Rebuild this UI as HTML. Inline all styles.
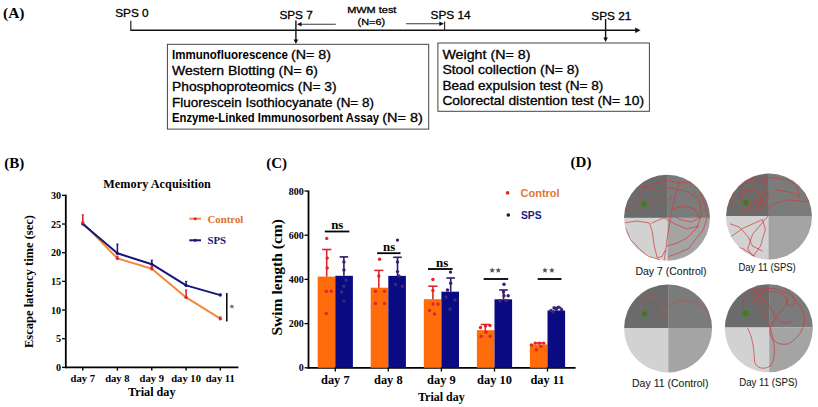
<!DOCTYPE html>
<html><head><meta charset="utf-8"><style>
html,body{margin:0;padding:0;background:#fff;width:818px;height:407px;overflow:hidden}
svg{display:block}
</style></head><body>
<svg width="818" height="407" viewBox="0 0 818 407">
<rect width="818" height="407" fill="#fff"/>
<text x="3.0" y="17.7" font-family='"Liberation Serif", serif' font-size="15.5" font-weight="bold" fill="#000" text-anchor="start" >(A)</text>
<line x1="130.8" y1="30.3" x2="637" y2="30.3" stroke="#111" stroke-width="1.6" />
<polygon points="635.2,27.6 640.6,30.3 635.2,33.0" fill="#111"/>
<line x1="130.8" y1="20.8" x2="130.8" y2="31.0" stroke="#333" stroke-width="1.3" />
<text x="115.2" y="17.2" font-family='"Liberation Sans", sans-serif' font-size="11.2" font-weight="normal" fill="#000" stroke="#000" stroke-width="0.3" textLength="33.5" lengthAdjust="spacingAndGlyphs">SPS 0</text>
<text x="279.4" y="19.0" font-family='"Liberation Sans", sans-serif' font-size="11.2" font-weight="normal" fill="#000" stroke="#000" stroke-width="0.3" textLength="33.4" lengthAdjust="spacingAndGlyphs">SPS 7</text>
<line x1="295.9" y1="20.6" x2="295.9" y2="40" stroke="#111" stroke-width="1.4" />
<polygon points="293.6,39.5 295.9,44 298.2,39.5" fill="#111"/>
<line x1="300" y1="24.2" x2="335.8" y2="24.2" stroke="#3a3a3a" stroke-width="1.1" />
<polygon points="297,24.3 301.5,22.0 301.5,26.6" fill="#111"/>
<text x="347.2" y="12.6" font-family='"Liberation Sans", sans-serif' font-size="9.9" font-weight="normal" fill="#000" stroke="#000" stroke-width="0.3" textLength="49.2" lengthAdjust="spacingAndGlyphs">MWM test</text>
<text x="357.6" y="24.6" font-family='"Liberation Sans", sans-serif' font-size="9.9" font-weight="normal" fill="#000" stroke="#000" stroke-width="0.3" textLength="27.6" lengthAdjust="spacingAndGlyphs">(N=6)</text>
<line x1="406" y1="23.8" x2="440" y2="23.8" stroke="#3a3a3a" stroke-width="1.1" />
<polygon points="444,23.8 439.3,21.5 439.3,26.1" fill="#111"/>
<line x1="444.6" y1="21.6" x2="444.6" y2="30" stroke="#222" stroke-width="1.1" />
<text x="430.5" y="18.7" font-family='"Liberation Sans", sans-serif' font-size="11.2" font-weight="normal" fill="#000" stroke="#000" stroke-width="0.3" textLength="40.2" lengthAdjust="spacingAndGlyphs">SPS 14</text>
<text x="591.3" y="19.8" font-family='"Liberation Sans", sans-serif' font-size="11.2" font-weight="normal" fill="#000" stroke="#000" stroke-width="0.3" textLength="40.0" lengthAdjust="spacingAndGlyphs">SPS 21</text>
<line x1="605.6" y1="19" x2="605.6" y2="38" stroke="#111" stroke-width="1.4" />
<polygon points="603.3,37.5 605.6,42 607.9,37.5" fill="#111"/>
<rect x="167.4" y="44.3" width="261.3" height="84.8" fill="none" stroke="#444" stroke-width="1"/>
<text x="172.0" y="59.1" font-family='"Liberation Sans", sans-serif' font-size="12.2" font-weight="bold" fill="#000" textLength="116.0" lengthAdjust="spacingAndGlyphs">Immunofluorescence</text>
<text x="291.0" y="59.1" font-family='"Liberation Sans", sans-serif' font-size="12.2" font-weight="normal" fill="#000" stroke="#000" stroke-width="0.3" textLength="40.0" lengthAdjust="spacingAndGlyphs">(N= 8)</text>
<text x="172.0" y="74.9" font-family='"Liberation Sans", sans-serif' font-size="12.2" font-weight="normal" fill="#000" stroke="#000" stroke-width="0.3" textLength="146.0" lengthAdjust="spacingAndGlyphs">Western Blotting (N= 6)</text>
<text x="172.0" y="90.7" font-family='"Liberation Sans", sans-serif' font-size="12.2" font-weight="normal" fill="#000" stroke="#000" stroke-width="0.3" textLength="164.6" lengthAdjust="spacingAndGlyphs">Phosphoproteomics (N= 3)</text>
<text x="172.0" y="106.5" font-family='"Liberation Sans", sans-serif' font-size="12.2" font-weight="normal" fill="#000" stroke="#000" stroke-width="0.3" textLength="202.0" lengthAdjust="spacingAndGlyphs">Fluorescein Isothiocyanate (N= 8)</text>
<text x="172.0" y="122.3" font-family='"Liberation Sans", sans-serif' font-size="12.0" font-weight="bold" fill="#000" textLength="207.0" lengthAdjust="spacingAndGlyphs">Enzyme-Linked Immunosorbent Assay</text>
<text x="382.2" y="122.3" font-family='"Liberation Sans", sans-serif' font-size="12.2" font-weight="normal" fill="#000" stroke="#000" stroke-width="0.3" textLength="40.6" lengthAdjust="spacingAndGlyphs">(N= 8)</text>
<rect x="437.9" y="43.0" width="211.5" height="68.3" fill="none" stroke="#444" stroke-width="1"/>
<text x="442.4" y="58.8" font-family='"Liberation Sans", sans-serif' font-size="12.2" font-weight="normal" fill="#000" stroke="#000" stroke-width="0.3" textLength="88.0" lengthAdjust="spacingAndGlyphs">Weight (N= 8)</text>
<text x="442.4" y="74.3" font-family='"Liberation Sans", sans-serif' font-size="12.2" font-weight="normal" fill="#000" stroke="#000" stroke-width="0.3" textLength="136.8" lengthAdjust="spacingAndGlyphs">Stool collection (N= 8)</text>
<text x="442.4" y="89.8" font-family='"Liberation Sans", sans-serif' font-size="12.2" font-weight="normal" fill="#000" stroke="#000" stroke-width="0.3" textLength="161.0" lengthAdjust="spacingAndGlyphs">Bead expulsion test (N= 8)</text>
<text x="442.4" y="105.2" font-family='"Liberation Sans", sans-serif' font-size="12.2" font-weight="normal" fill="#000" stroke="#000" stroke-width="0.3" textLength="201.6" lengthAdjust="spacingAndGlyphs">Colorectal distention test (N= 10)</text>
<text x="4.2" y="168.4" font-family='"Liberation Serif", serif' font-size="15" font-weight="bold" fill="#000" text-anchor="start" >(B)</text>
<text x="103.3" y="187.9" font-family='"Liberation Serif", serif' font-size="12.2" font-weight="bold" textLength="107.6" lengthAdjust="spacing">Memory Acquisition</text>
<line x1="65.8" y1="194.6" x2="65.8" y2="368.2" stroke="#000" stroke-width="1.8" />
<line x1="64.9" y1="367.4" x2="238.4" y2="367.4" stroke="#000" stroke-width="1.7" />
<line x1="62.0" y1="367.4" x2="65.5" y2="367.4" stroke="#000" stroke-width="1.3" />
<text x="61.2" y="370.9" font-family='"Liberation Serif", serif' font-size="10.2" font-weight="bold" fill="#000" text-anchor="end" >0</text>
<line x1="62.0" y1="338.72499999999997" x2="65.5" y2="338.72499999999997" stroke="#000" stroke-width="1.3" />
<text x="61.2" y="342.22499999999997" font-family='"Liberation Serif", serif' font-size="10.2" font-weight="bold" fill="#000" text-anchor="end" >5</text>
<line x1="62.0" y1="310.04999999999995" x2="65.5" y2="310.04999999999995" stroke="#000" stroke-width="1.3" />
<text x="61.2" y="313.54999999999995" font-family='"Liberation Serif", serif' font-size="10.2" font-weight="bold" fill="#000" text-anchor="end" >10</text>
<line x1="62.0" y1="281.375" x2="65.5" y2="281.375" stroke="#000" stroke-width="1.3" />
<text x="61.2" y="284.875" font-family='"Liberation Serif", serif' font-size="10.2" font-weight="bold" fill="#000" text-anchor="end" >15</text>
<line x1="62.0" y1="252.7" x2="65.5" y2="252.7" stroke="#000" stroke-width="1.3" />
<text x="61.2" y="256.2" font-family='"Liberation Serif", serif' font-size="10.2" font-weight="bold" fill="#000" text-anchor="end" >20</text>
<line x1="62.0" y1="224.02499999999998" x2="65.5" y2="224.02499999999998" stroke="#000" stroke-width="1.3" />
<text x="61.2" y="227.52499999999998" font-family='"Liberation Serif", serif' font-size="10.2" font-weight="bold" fill="#000" text-anchor="end" >25</text>
<line x1="62.0" y1="195.34999999999997" x2="65.5" y2="195.34999999999997" stroke="#000" stroke-width="1.3" />
<text x="61.2" y="198.84999999999997" font-family='"Liberation Serif", serif' font-size="10.2" font-weight="bold" fill="#000" text-anchor="end" >30</text>
<line x1="82.8" y1="367.4" x2="82.8" y2="370.6" stroke="#000" stroke-width="1.4" />
<text x="82.8" y="381.7" font-family='"Liberation Serif", serif' font-size="10.6" font-weight="bold" fill="#000" text-anchor="middle" >day 7</text>
<line x1="117.4" y1="367.4" x2="117.4" y2="370.6" stroke="#000" stroke-width="1.4" />
<text x="117.4" y="381.7" font-family='"Liberation Serif", serif' font-size="10.6" font-weight="bold" fill="#000" text-anchor="middle" >day 8</text>
<line x1="151.8" y1="367.4" x2="151.8" y2="370.6" stroke="#000" stroke-width="1.4" />
<text x="151.8" y="381.7" font-family='"Liberation Serif", serif' font-size="10.6" font-weight="bold" fill="#000" text-anchor="middle" >day 9</text>
<line x1="186.1" y1="367.4" x2="186.1" y2="370.6" stroke="#000" stroke-width="1.4" />
<text x="186.1" y="381.7" font-family='"Liberation Serif", serif' font-size="10.6" font-weight="bold" fill="#000" text-anchor="middle" >day 10</text>
<line x1="220.3" y1="367.4" x2="220.3" y2="370.6" stroke="#000" stroke-width="1.4" />
<text x="220.3" y="381.7" font-family='"Liberation Serif", serif' font-size="10.6" font-weight="bold" fill="#000" text-anchor="middle" >day 11</text>
<text x="151.8" y="395.9" font-family='"Liberation Serif", serif' font-size="12.2" font-weight="bold" fill="#000" text-anchor="middle" >Trial day</text>
<text x="0" y="0" font-family='"Liberation Serif", serif' font-size="13.2" font-weight="bold" text-anchor="middle" textLength="133" lengthAdjust="spacingAndGlyphs" transform="translate(33.3 281.5) rotate(-90)">Escape latency time (sec)</text>
<polyline points="82.8,222.9 117.4,258.4 151.8,268.8 186.1,297.4 220.3,318.7" fill="none" stroke="#f08a3a" stroke-width="2.0" stroke-linejoin="round"/>
<polyline points="82.8,224.0 117.4,253.3 151.8,264.2 186.1,285.4 220.3,295.1" fill="none" stroke="#16167a" stroke-width="2.0" stroke-linejoin="round"/>
<line x1="82.8" y1="224.02499999999998" x2="82.8" y2="222.30449999999996" stroke="#16167a" stroke-width="1.5" />
<line x1="81.6" y1="222.30449999999996" x2="84.0" y2="222.30449999999996" stroke="#16167a" stroke-width="1.0" />
<circle cx="82.8" cy="224.0" r="1.6" fill="#16167a"/>
<line x1="117.4" y1="253.27349999999998" x2="117.4" y2="244.09749999999997" stroke="#16167a" stroke-width="1.5" />
<line x1="116.2" y1="244.09749999999997" x2="118.60000000000001" y2="244.09749999999997" stroke="#16167a" stroke-width="1.0" />
<circle cx="117.4" cy="253.3" r="1.6" fill="#16167a"/>
<line x1="151.8" y1="264.16999999999996" x2="151.8" y2="260.15549999999996" stroke="#16167a" stroke-width="1.5" />
<line x1="150.60000000000002" y1="260.15549999999996" x2="153.0" y2="260.15549999999996" stroke="#16167a" stroke-width="1.0" />
<circle cx="151.8" cy="264.2" r="1.6" fill="#16167a"/>
<line x1="186.1" y1="285.3895" x2="186.1" y2="281.375" stroke="#16167a" stroke-width="1.5" />
<line x1="184.9" y1="281.375" x2="187.29999999999998" y2="281.375" stroke="#16167a" stroke-width="1.0" />
<circle cx="186.1" cy="285.4" r="1.6" fill="#16167a"/>
<line x1="220.3" y1="295.139" x2="220.3" y2="293.99199999999996" stroke="#16167a" stroke-width="1.5" />
<line x1="219.10000000000002" y1="293.99199999999996" x2="221.5" y2="293.99199999999996" stroke="#16167a" stroke-width="1.0" />
<circle cx="220.3" cy="295.1" r="1.6" fill="#16167a"/>
<line x1="82.8" y1="222.878" x2="82.8" y2="214.849" stroke="#e0252a" stroke-width="1.6" />
<line x1="81.6" y1="214.849" x2="84.0" y2="214.849" stroke="#e0252a" stroke-width="1.0" />
<circle cx="82.8" cy="222.9" r="1.7" fill="#e0252a"/>
<line x1="117.4" y1="258.43499999999995" x2="117.4" y2="256.14099999999996" stroke="#e0252a" stroke-width="1.6" />
<line x1="116.2" y1="256.14099999999996" x2="118.60000000000001" y2="256.14099999999996" stroke="#e0252a" stroke-width="1.0" />
<circle cx="117.4" cy="258.4" r="1.7" fill="#e0252a"/>
<line x1="151.8" y1="268.758" x2="151.8" y2="266.464" stroke="#e0252a" stroke-width="1.6" />
<line x1="150.60000000000002" y1="266.464" x2="153.0" y2="266.464" stroke="#e0252a" stroke-width="1.0" />
<circle cx="151.8" cy="268.8" r="1.7" fill="#e0252a"/>
<line x1="186.1" y1="297.433" x2="186.1" y2="289.97749999999996" stroke="#e0252a" stroke-width="1.6" />
<line x1="184.9" y1="289.97749999999996" x2="187.29999999999998" y2="289.97749999999996" stroke="#e0252a" stroke-width="1.0" />
<circle cx="186.1" cy="297.4" r="1.7" fill="#e0252a"/>
<line x1="220.3" y1="318.6525" x2="220.3" y2="316.93199999999996" stroke="#e0252a" stroke-width="1.6" />
<line x1="219.10000000000002" y1="316.93199999999996" x2="221.5" y2="316.93199999999996" stroke="#e0252a" stroke-width="1.0" />
<circle cx="220.3" cy="318.7" r="1.7" fill="#e0252a"/>
<line x1="226.8" y1="293" x2="226.8" y2="321.5" stroke="#000" stroke-width="1.5" />
<polygon points="231.9,303.9 232.6,305.7 234.5,305.7 233.0,306.9 233.6,308.8 231.9,307.6 230.2,308.8 230.8,306.9 229.3,305.7 231.2,305.7" fill="#666"/>
<line x1="189.3" y1="218.7" x2="201" y2="218.7" stroke="#f08a3a" stroke-width="2.0" />
<circle cx="195.2" cy="218.7" r="1.5" fill="#e0252a"/>
<text x="207.5" y="222.7" font-family='"Liberation Serif", serif' font-size="10.8" font-weight="bold" fill="#dc7230" text-anchor="start" >Control</text>
<line x1="189.3" y1="240.3" x2="201" y2="240.3" stroke="#16167a" stroke-width="2.0" />
<circle cx="195.2" cy="240.3" r="1.5" fill="#16167a"/>
<text x="207.5" y="243.7" font-family='"Liberation Serif", serif' font-size="10.8" font-weight="bold" fill="#16167a" text-anchor="start" >SPS</text>
<text x="266.2" y="168.4" font-family='"Liberation Serif", serif' font-size="15" font-weight="bold" fill="#000" text-anchor="start" >(C)</text>
<line x1="308.5" y1="190.5" x2="308.5" y2="368.7" stroke="#000" stroke-width="1.8" />
<line x1="307.6" y1="367.8" x2="575.6" y2="367.8" stroke="#000" stroke-width="1.8" />
<line x1="304.5" y1="367.8" x2="308" y2="367.8" stroke="#000" stroke-width="1.3" />
<text x="303.8" y="371.3" font-family='"Liberation Serif", serif' font-size="10" font-weight="bold" fill="#000" text-anchor="end" >0</text>
<line x1="304.5" y1="323.6" x2="308" y2="323.6" stroke="#000" stroke-width="1.3" />
<text x="303.8" y="327.1" font-family='"Liberation Serif", serif' font-size="10" font-weight="bold" fill="#000" text-anchor="end" >200</text>
<line x1="304.5" y1="279.4" x2="308" y2="279.4" stroke="#000" stroke-width="1.3" />
<text x="303.8" y="282.9" font-family='"Liberation Serif", serif' font-size="10" font-weight="bold" fill="#000" text-anchor="end" >400</text>
<line x1="304.5" y1="235.20000000000002" x2="308" y2="235.20000000000002" stroke="#000" stroke-width="1.3" />
<text x="303.8" y="238.70000000000002" font-family='"Liberation Serif", serif' font-size="10" font-weight="bold" fill="#000" text-anchor="end" >600</text>
<line x1="304.5" y1="191.0" x2="308" y2="191.0" stroke="#000" stroke-width="1.3" />
<text x="303.8" y="194.5" font-family='"Liberation Serif", serif' font-size="10" font-weight="bold" fill="#000" text-anchor="end" >800</text>
<rect x="317.7" y="276.6" width="17.6" height="91.2" fill="#ff6c0c"/>
<rect x="335.3" y="275.8" width="17.6" height="92.0" fill="#0a0a82"/>
<rect x="370.7" y="287.7" width="17.6" height="80.1" fill="#ff6c0c"/>
<rect x="388.3" y="275.9" width="17.6" height="91.9" fill="#0a0a82"/>
<rect x="423.8" y="299.2" width="17.6" height="68.6" fill="#ff6c0c"/>
<rect x="441.4" y="291.7" width="17.6" height="76.1" fill="#0a0a82"/>
<rect x="476.9" y="330.2" width="17.6" height="37.6" fill="#ff6c0c"/>
<rect x="494.5" y="299.3" width="17.6" height="68.5" fill="#0a0a82"/>
<rect x="529.9" y="344.4" width="17.6" height="23.4" fill="#ff6c0c"/>
<rect x="547.5" y="310.5" width="17.6" height="57.3" fill="#0a0a82"/>
<line x1="326.7" y1="276.6" x2="326.7" y2="249.5" stroke="#e0252a" stroke-width="1.6" />
<line x1="322.09999999999997" y1="249.5" x2="331.3" y2="249.5" stroke="#e0252a" stroke-width="1.6" />
<line x1="343.9" y1="275.8" x2="343.9" y2="256.9" stroke="#2e1a66" stroke-width="1.6" />
<line x1="339.59999999999997" y1="256.9" x2="348.2" y2="256.9" stroke="#2e1a66" stroke-width="1.6" />
<line x1="335.3" y1="367.8" x2="335.3" y2="371.6" stroke="#000" stroke-width="1.3" />
<text x="335.3" y="384.3" font-family='"Liberation Serif", serif' font-size="12.4" font-weight="bold" fill="#000" text-anchor="middle" >day 7</text>
<line x1="378.8" y1="287.7" x2="378.8" y2="270.4" stroke="#e0252a" stroke-width="1.6" />
<line x1="374.2" y1="270.4" x2="383.40000000000003" y2="270.4" stroke="#e0252a" stroke-width="1.6" />
<line x1="397.5" y1="275.9" x2="397.5" y2="257.3" stroke="#2e1a66" stroke-width="1.6" />
<line x1="393.2" y1="257.3" x2="401.8" y2="257.3" stroke="#2e1a66" stroke-width="1.6" />
<line x1="388.3" y1="367.8" x2="388.3" y2="371.6" stroke="#000" stroke-width="1.3" />
<text x="388.3" y="384.3" font-family='"Liberation Serif", serif' font-size="12.4" font-weight="bold" fill="#000" text-anchor="middle" >day 8</text>
<line x1="432.9" y1="299.2" x2="432.9" y2="286.2" stroke="#e0252a" stroke-width="1.6" />
<line x1="428.29999999999995" y1="286.2" x2="437.5" y2="286.2" stroke="#e0252a" stroke-width="1.6" />
<line x1="450.7" y1="291.7" x2="450.7" y2="278.0" stroke="#2e1a66" stroke-width="1.6" />
<line x1="446.4" y1="278.0" x2="455.0" y2="278.0" stroke="#2e1a66" stroke-width="1.6" />
<line x1="441.4" y1="367.8" x2="441.4" y2="371.6" stroke="#000" stroke-width="1.3" />
<text x="441.4" y="384.3" font-family='"Liberation Serif", serif' font-size="12.4" font-weight="bold" fill="#000" text-anchor="middle" >day 9</text>
<line x1="485.3" y1="330.2" x2="485.3" y2="324.5" stroke="#e0252a" stroke-width="1.6" />
<line x1="480.7" y1="324.5" x2="489.90000000000003" y2="324.5" stroke="#e0252a" stroke-width="1.6" />
<line x1="503.5" y1="299.3" x2="503.5" y2="290.0" stroke="#2e1a66" stroke-width="1.6" />
<line x1="499.2" y1="290.0" x2="507.8" y2="290.0" stroke="#2e1a66" stroke-width="1.6" />
<line x1="494.5" y1="367.8" x2="494.5" y2="371.6" stroke="#000" stroke-width="1.3" />
<text x="494.5" y="384.3" font-family='"Liberation Serif", serif' font-size="12.4" font-weight="bold" fill="#000" text-anchor="middle" >day 10</text>
<line x1="539.0" y1="344.4" x2="539.0" y2="343.0" stroke="#e0252a" stroke-width="1.6" />
<line x1="534.4" y1="343.0" x2="543.6" y2="343.0" stroke="#e0252a" stroke-width="1.6" />
<line x1="557.0" y1="310.5" x2="557.0" y2="307.5" stroke="#2e1a66" stroke-width="1.6" />
<line x1="552.7" y1="307.5" x2="561.3" y2="307.5" stroke="#2e1a66" stroke-width="1.6" />
<line x1="547.5" y1="367.8" x2="547.5" y2="371.6" stroke="#000" stroke-width="1.3" />
<text x="547.5" y="384.3" font-family='"Liberation Serif", serif' font-size="12.4" font-weight="bold" fill="#000" text-anchor="middle" >day 11</text>
<text x="441.4" y="400.5" font-family='"Liberation Serif", serif' font-size="12" font-weight="bold" fill="#000" text-anchor="middle" >Trial day</text>
<text x="0" y="0" font-family='"Liberation Serif", serif' font-size="15.6" font-weight="bold" text-anchor="middle" textLength="116.5" lengthAdjust="spacingAndGlyphs" transform="translate(282.3 277.3) rotate(-90)">Swim length (cm)</text>
<line x1="324.8" y1="231.5" x2="349.3" y2="231.5" stroke="#000" stroke-width="1.8" />
<line x1="377.1" y1="253.2" x2="400.5" y2="253.2" stroke="#000" stroke-width="1.8" />
<line x1="428.0" y1="269.0" x2="452.6" y2="269.0" stroke="#000" stroke-width="1.8" />
<line x1="483.6" y1="279.0" x2="508.2" y2="279.0" stroke="#000" stroke-width="1.8" />
<line x1="537.7" y1="279.0" x2="561.5" y2="279.0" stroke="#000" stroke-width="1.8" />
<text x="331.2" y="229.3" font-family='"Liberation Serif", serif' font-size="13.5" font-weight="bold" textLength="12.2" lengthAdjust="spacingAndGlyphs">ns</text>
<text x="383.0" y="250.7" font-family='"Liberation Serif", serif' font-size="13.5" font-weight="bold" textLength="12.2" lengthAdjust="spacingAndGlyphs">ns</text>
<text x="436.0" y="266.6" font-family='"Liberation Serif", serif' font-size="13.5" font-weight="bold" textLength="12.2" lengthAdjust="spacingAndGlyphs">ns</text>
<polygon points="492.20,267.40 492.99,269.31 495.05,269.47 493.48,270.82 493.96,272.83 492.20,271.75 490.44,272.83 490.92,270.82 489.35,269.47 491.41,269.31" fill="#555"/>
<polygon points="498.30,267.40 499.09,269.31 501.15,269.47 499.58,270.82 500.06,272.83 498.30,271.75 496.54,272.83 497.02,270.82 495.45,269.47 497.51,269.31" fill="#555"/>
<polygon points="545.00,267.40 545.79,269.31 547.85,269.47 546.28,270.82 546.76,272.83 545.00,271.75 543.24,272.83 543.72,270.82 542.15,269.47 544.21,269.31" fill="#555"/>
<polygon points="551.90,267.40 552.69,269.31 554.75,269.47 553.18,270.82 553.66,272.83 551.90,271.75 550.14,272.83 550.62,270.82 549.05,269.47 551.11,269.31" fill="#555"/>
<circle cx="326.7" cy="238.4" r="1.7" fill="#e0252a"/>
<circle cx="327.2" cy="258.1" r="1.7" fill="#e0252a"/>
<circle cx="327.2" cy="267.9" r="1.7" fill="#e0252a"/>
<circle cx="326.3" cy="291.3" r="1.7" fill="#e0252a"/>
<circle cx="331.2" cy="291.3" r="1.7" fill="#e0252a"/>
<circle cx="326.3" cy="313.4" r="1.7" fill="#e0252a"/>
<circle cx="379.6" cy="259.3" r="1.7" fill="#e0252a"/>
<circle cx="378.8" cy="276.0" r="1.7" fill="#e0252a"/>
<circle cx="375.4" cy="291.3" r="1.7" fill="#e0252a"/>
<circle cx="384.5" cy="291.3" r="1.7" fill="#e0252a"/>
<circle cx="375.4" cy="303.5" r="1.7" fill="#e0252a"/>
<circle cx="384.5" cy="303.5" r="1.7" fill="#e0252a"/>
<circle cx="432.9" cy="279.5" r="1.7" fill="#e0252a"/>
<circle cx="432.9" cy="290.5" r="1.7" fill="#e0252a"/>
<circle cx="433.0" cy="304.0" r="1.7" fill="#e0252a"/>
<circle cx="438.0" cy="304.0" r="1.7" fill="#e0252a"/>
<circle cx="429.5" cy="310.5" r="1.7" fill="#e0252a"/>
<circle cx="434.5" cy="314.0" r="1.7" fill="#e0252a"/>
<circle cx="480.5" cy="327.5" r="1.7" fill="#e0252a"/>
<circle cx="485.5" cy="326.0" r="1.7" fill="#e0252a"/>
<circle cx="490.0" cy="325.5" r="1.7" fill="#e0252a"/>
<circle cx="481.1" cy="336.3" r="1.7" fill="#e0252a"/>
<circle cx="490.2" cy="336.3" r="1.7" fill="#e0252a"/>
<circle cx="486.0" cy="332.0" r="1.7" fill="#e0252a"/>
<circle cx="531.5" cy="344.9" r="1.7" fill="#e0252a"/>
<circle cx="535.2" cy="343.1" r="1.7" fill="#e0252a"/>
<circle cx="539.4" cy="343.1" r="1.7" fill="#e0252a"/>
<circle cx="543.8" cy="343.1" r="1.7" fill="#e0252a"/>
<circle cx="536.4" cy="349.8" r="1.7" fill="#e0252a"/>
<circle cx="541.0" cy="346.5" r="1.7" fill="#e0252a"/>
<circle cx="343.9" cy="262.0" r="1.7" fill="#3a1f70"/>
<circle cx="343.9" cy="270.0" r="1.7" fill="#3a1f70"/>
<circle cx="343.9" cy="286.3" r="1.7" fill="#3c2a78"/>
<circle cx="343.9" cy="301.1" r="1.7" fill="#3c2a78"/>
<circle cx="346.0" cy="280.0" r="1.7" fill="#3c2a78"/>
<circle cx="341.5" cy="292.0" r="1.7" fill="#3c2a78"/>
<circle cx="397.5" cy="240.1" r="1.7" fill="#3a1f70"/>
<circle cx="397.5" cy="262.0" r="1.7" fill="#3a1f70"/>
<circle cx="397.5" cy="271.6" r="1.7" fill="#3a1f70"/>
<circle cx="395.5" cy="284.4" r="1.7" fill="#3c2a78"/>
<circle cx="402.4" cy="286.3" r="1.7" fill="#3c2a78"/>
<circle cx="399.0" cy="276.0" r="1.7" fill="#3c2a78"/>
<circle cx="450.5" cy="272.1" r="1.7" fill="#3a1f70"/>
<circle cx="450.7" cy="283.2" r="1.7" fill="#3a1f70"/>
<circle cx="446.0" cy="297.0" r="1.7" fill="#3c2a78"/>
<circle cx="455.0" cy="300.0" r="1.7" fill="#3c2a78"/>
<circle cx="450.0" cy="309.0" r="1.7" fill="#3c2a78"/>
<circle cx="447.5" cy="290.0" r="1.7" fill="#3a1f70"/>
<circle cx="504.0" cy="284.2" r="1.7" fill="#3a1f70"/>
<circle cx="508.2" cy="295.7" r="1.7" fill="#3a1f70"/>
<circle cx="504.0" cy="295.7" r="1.7" fill="#3a1f70"/>
<circle cx="500.0" cy="301.0" r="1.7" fill="#3c2a78"/>
<circle cx="506.0" cy="300.5" r="1.7" fill="#3c2a78"/>
<circle cx="503.5" cy="292.0" r="1.7" fill="#3a1f70"/>
<circle cx="554.1" cy="308.0" r="1.7" fill="#3a1f70"/>
<circle cx="558.5" cy="307.3" r="1.7" fill="#3a1f70"/>
<circle cx="551.0" cy="310.5" r="1.7" fill="#3c2a78"/>
<circle cx="561.5" cy="309.5" r="1.7" fill="#3a1f70"/>
<circle cx="556.0" cy="309.0" r="1.7" fill="#3a1f70"/>
<circle cx="553.0" cy="312.0" r="1.7" fill="#3c2a78"/>
<circle cx="507.6" cy="192.9" r="1.8" fill="#e0252a"/>
<text x="520.6" y="196.6" font-family='"Liberation Sans", sans-serif' font-size="10.6" font-weight="bold" fill="#e27634" textLength="39.0" lengthAdjust="spacingAndGlyphs">Control</text>
<circle cx="508.3" cy="215" r="1.8" fill="#1a1a40"/>
<text x="521.0" y="218.6" font-family='"Liberation Sans", sans-serif' font-size="10.6" font-weight="bold" fill="#1a1a80" textLength="20.6" lengthAdjust="spacingAndGlyphs">SPS</text>
<text x="570.6" y="167.3" font-family='"Liberation Serif", serif' font-size="15" font-weight="bold" fill="#000" text-anchor="start" >(D)</text>
<clipPath id="c1"><circle cx="667.0" cy="217.8" r="43.0"/></clipPath>
<g clip-path="url(#c1)">
<rect x="623.0" y="173.8" width="44.8" height="44.099999999999994" fill="#6b6b6b"/>
<rect x="667.5" y="173.8" width="43.5" height="44.099999999999994" fill="#7b7b7b"/>
<rect x="623.0" y="217.9" width="44.8" height="43.900000000000006" fill="#d2d2d2"/>
<rect x="667.5" y="217.9" width="43.5" height="43.900000000000006" fill="#a4a4a4"/>
<g transform="translate(615 165) scale(0.24570024570024568)">
<path d="M115,150 L95,125 L120,95 L165,72 L210,62 L262,72 L305,70 L340,98 L362,150 L378,205 L360,262 L330,300 L300,340 L255,360 L220,372" fill="none" stroke="#cc3e3a" stroke-opacity="0.85" stroke-width="0.85" vector-effect="non-scaling-stroke" stroke-linejoin="round" stroke-linecap="round"/>
<path d="M262,72 L245,125 L232,180 L222,240 L212,300 L206,350 L200,388" fill="none" stroke="#cc3e3a" stroke-opacity="0.85" stroke-width="0.85" vector-effect="non-scaling-stroke" stroke-linejoin="round" stroke-linecap="round"/>
<path d="M232,180 L272,168 L322,178 L345,215 L310,232 L262,222 L240,205" fill="none" stroke="#cc3e3a" stroke-opacity="0.85" stroke-width="0.85" vector-effect="non-scaling-stroke" stroke-linejoin="round" stroke-linecap="round"/>
<path d="M212,330 L252,318 L292,298 L332,258 L352,205 L345,140 L320,110" fill="none" stroke="#cc3e3a" stroke-opacity="0.85" stroke-width="0.85" vector-effect="non-scaling-stroke" stroke-linejoin="round" stroke-linecap="round"/>
<path d="M40,235 L90,228 L140,236 L152,272 L160,330 L172,378 L192,372 L205,345" fill="none" stroke="#cc3e3a" stroke-opacity="0.85" stroke-width="0.85" vector-effect="non-scaling-stroke" stroke-linejoin="round" stroke-linecap="round"/>
<path d="M42,255 L62,302 L100,342 L135,372 L180,385" fill="none" stroke="#cc3e3a" stroke-opacity="0.85" stroke-width="0.85" vector-effect="non-scaling-stroke" stroke-linejoin="round" stroke-linecap="round"/>
<path d="M45,185 L85,165 L135,160 L170,140 L205,150 L232,130" fill="none" stroke="#cc3e3a" stroke-opacity="0.85" stroke-width="0.85" vector-effect="non-scaling-stroke" stroke-linejoin="round" stroke-linecap="round"/>
<path d="M100,85 L180,102 L232,92 L300,112 L338,140" fill="none" stroke="#cc3e3a" stroke-opacity="0.85" stroke-width="0.85" vector-effect="non-scaling-stroke" stroke-linejoin="round" stroke-linecap="round"/>
<path d="M150,236 L200,215 L245,240 L290,260 L340,250" fill="none" stroke="#cc3e3a" stroke-opacity="0.85" stroke-width="0.85" vector-effect="non-scaling-stroke" stroke-linejoin="round" stroke-linecap="round"/>
</g></g>
<circle cx="643.9" cy="203.9" r="3.1" fill="#56683f" stroke="#3f8e2a" stroke-width="1.1"/>
<clipPath id="c2"><circle cx="769.0" cy="216.6" r="43.0"/></clipPath>
<g clip-path="url(#c2)">
<rect x="725.0" y="172.6" width="43.90000000000002" height="43.400000000000006" fill="#6b6b6b"/>
<rect x="768.6" y="172.6" width="44.39999999999998" height="43.400000000000006" fill="#7b7b7b"/>
<rect x="725.0" y="216.0" width="43.90000000000002" height="44.60000000000002" fill="#d2d2d2"/>
<rect x="768.6" y="216.0" width="44.39999999999998" height="44.60000000000002" fill="#a4a4a4"/>
<g transform="translate(615 165) scale(0.24570024570024568)">
<path d="M530,150 L500,120 L520,80 L560,60 L600,70 L615,110 L590,150 L560,170 L520,160 L505,130 L540,100 L580,110 L600,150 L570,190 L530,185" fill="none" stroke="#cc3e3a" stroke-opacity="0.85" stroke-width="0.85" vector-effect="non-scaling-stroke" stroke-linejoin="round" stroke-linecap="round"/>
<path d="M480,180 L470,140 L490,95 L530,60 L575,50 L620,55 L610,95 L625,130 L600,175 L560,195" fill="none" stroke="#cc3e3a" stroke-opacity="0.85" stroke-width="0.85" vector-effect="non-scaling-stroke" stroke-linejoin="round" stroke-linecap="round"/>
<path d="M490,70 L540,120 L570,90 L610,160 L560,140 L520,200" fill="none" stroke="#cc3e3a" stroke-opacity="0.85" stroke-width="0.85" vector-effect="non-scaling-stroke" stroke-linejoin="round" stroke-linecap="round"/>
<path d="M620,50 L700,60 L760,90 L790,150 L700,142 L640,160 L615,190" fill="none" stroke="#cc3e3a" stroke-opacity="0.85" stroke-width="0.85" vector-effect="non-scaling-stroke" stroke-linejoin="round" stroke-linecap="round"/>
<path d="M650,100 L720,112 L752,132 L740,85" fill="none" stroke="#cc3e3a" stroke-opacity="0.85" stroke-width="0.85" vector-effect="non-scaling-stroke" stroke-linejoin="round" stroke-linecap="round"/>
<path d="M460,300 L520,258 L600,222 L612,262 L592,330 L562,372 L540,342 L560,282 L602,232 L625,205" fill="none" stroke="#cc3e3a" stroke-opacity="0.85" stroke-width="0.85" vector-effect="non-scaling-stroke" stroke-linejoin="round" stroke-linecap="round"/>
<path d="M470,240 L505,252 L542,292 L560,330 L600,350" fill="none" stroke="#cc3e3a" stroke-opacity="0.85" stroke-width="0.85" vector-effect="non-scaling-stroke" stroke-linejoin="round" stroke-linecap="round"/>
<path d="M470,330 L520,340 L570,372" fill="none" stroke="#cc3e3a" stroke-opacity="0.85" stroke-width="0.85" vector-effect="non-scaling-stroke" stroke-linejoin="round" stroke-linecap="round"/>
</g></g>
<circle cx="745.8" cy="202.6" r="3.1" fill="#56683f" stroke="#3f8e2a" stroke-width="1.1"/>
<clipPath id="c3"><circle cx="668.1" cy="328.4" r="44.0"/></clipPath>
<g clip-path="url(#c3)">
<rect x="623.1" y="283.4" width="45.49999999999993" height="44.60000000000002" fill="#6b6b6b"/>
<rect x="668.3" y="283.4" width="44.80000000000007" height="44.60000000000002" fill="#7b7b7b"/>
<rect x="623.1" y="328.0" width="45.49999999999993" height="45.39999999999998" fill="#d2d2d2"/>
<rect x="668.3" y="328.0" width="44.80000000000007" height="45.39999999999998" fill="#a4a4a4"/>
<g transform="translate(620 282) scale(0.23584905660377356)">
<path d="M100,135 C85,110 88,75 112,63 C140,55 175,70 185,100 C180,120 165,130 168,148 C178,160 190,150 195,125 C205,95 235,80 270,78 C310,80 345,95 365,115 C375,130 378,150 380,165" fill="none" stroke="#b05a58" stroke-opacity="0.85" stroke-width="0.85" vector-effect="non-scaling-stroke" stroke-linejoin="round" stroke-linecap="round"/>
</g></g>
<circle cx="644.5" cy="313.9" r="3.1" fill="#56683f" stroke="#3f8e2a" stroke-width="1.1"/>
<clipPath id="c4"><circle cx="768.8" cy="328.3" r="44.0"/></clipPath>
<g clip-path="url(#c4)">
<rect x="723.8" y="283.3" width="45.70000000000009" height="44.19999999999999" fill="#6b6b6b"/>
<rect x="769.2" y="283.3" width="44.59999999999991" height="44.19999999999999" fill="#7b7b7b"/>
<rect x="723.8" y="327.5" width="45.70000000000009" height="45.80000000000001" fill="#d2d2d2"/>
<rect x="769.2" y="327.5" width="44.59999999999991" height="45.80000000000001" fill="#a4a4a4"/>
<g transform="translate(615 278) scale(0.24570024570024568)">
<path d="M530,145 C515,110 520,70 560,50 C610,35 670,40 715,70 C745,100 770,130 772,170 C768,215 740,250 705,268 C670,275 640,262 630,225 C628,190 660,150 690,120 C715,90 690,60 650,55 C610,55 575,75 560,100" fill="none" stroke="#cc3e3a" stroke-opacity="0.85" stroke-width="0.85" vector-effect="non-scaling-stroke" stroke-linejoin="round" stroke-linecap="round"/>
<path d="M540,205 C560,240 566,290 568,340 C575,368 605,375 632,358 C652,335 652,290 642,240 C632,200 615,160 600,120 C590,95 585,80 575,65" fill="none" stroke="#cc3e3a" stroke-opacity="0.85" stroke-width="0.85" vector-effect="non-scaling-stroke" stroke-linejoin="round" stroke-linecap="round"/>
<path d="M560,45 C600,80 630,110 650,150 C668,185 690,190 720,175" fill="none" stroke="#cc3e3a" stroke-opacity="0.85" stroke-width="0.85" vector-effect="non-scaling-stroke" stroke-linejoin="round" stroke-linecap="round"/>
<path d="M690,42 C720,60 740,90 725,110 C700,120 690,100 705,80" fill="none" stroke="#cc3e3a" stroke-opacity="0.85" stroke-width="0.85" vector-effect="non-scaling-stroke" stroke-linejoin="round" stroke-linecap="round"/>
</g></g>
<circle cx="745.5" cy="313.2" r="3.1" fill="#56683f" stroke="#3f8e2a" stroke-width="1.1"/>
<text x="635.4" y="274.8" font-family='"Liberation Sans", sans-serif' font-size="10.2" fill="#1a1a1a" stroke="#1a1a1a" stroke-width="0.08" textLength="71.2" lengthAdjust="spacingAndGlyphs">Day 7 (Control)</text>
<text x="738.4" y="271.1" font-family='"Liberation Sans", sans-serif' font-size="10.2" fill="#1a1a1a" stroke="#1a1a1a" stroke-width="0.08" textLength="57.4" lengthAdjust="spacingAndGlyphs">Day 11 (SPS)</text>
<text x="632.0" y="386.7" font-family='"Liberation Sans", sans-serif' font-size="10.2" fill="#1a1a1a" stroke="#1a1a1a" stroke-width="0.08" textLength="76.4" lengthAdjust="spacingAndGlyphs">Day 11 (Control)</text>
<text x="739.2" y="386.1" font-family='"Liberation Sans", sans-serif' font-size="10.2" fill="#1a1a1a" stroke="#1a1a1a" stroke-width="0.08" textLength="58.4" lengthAdjust="spacingAndGlyphs">Day 11 (SPS)</text>
</svg>
</body></html>
